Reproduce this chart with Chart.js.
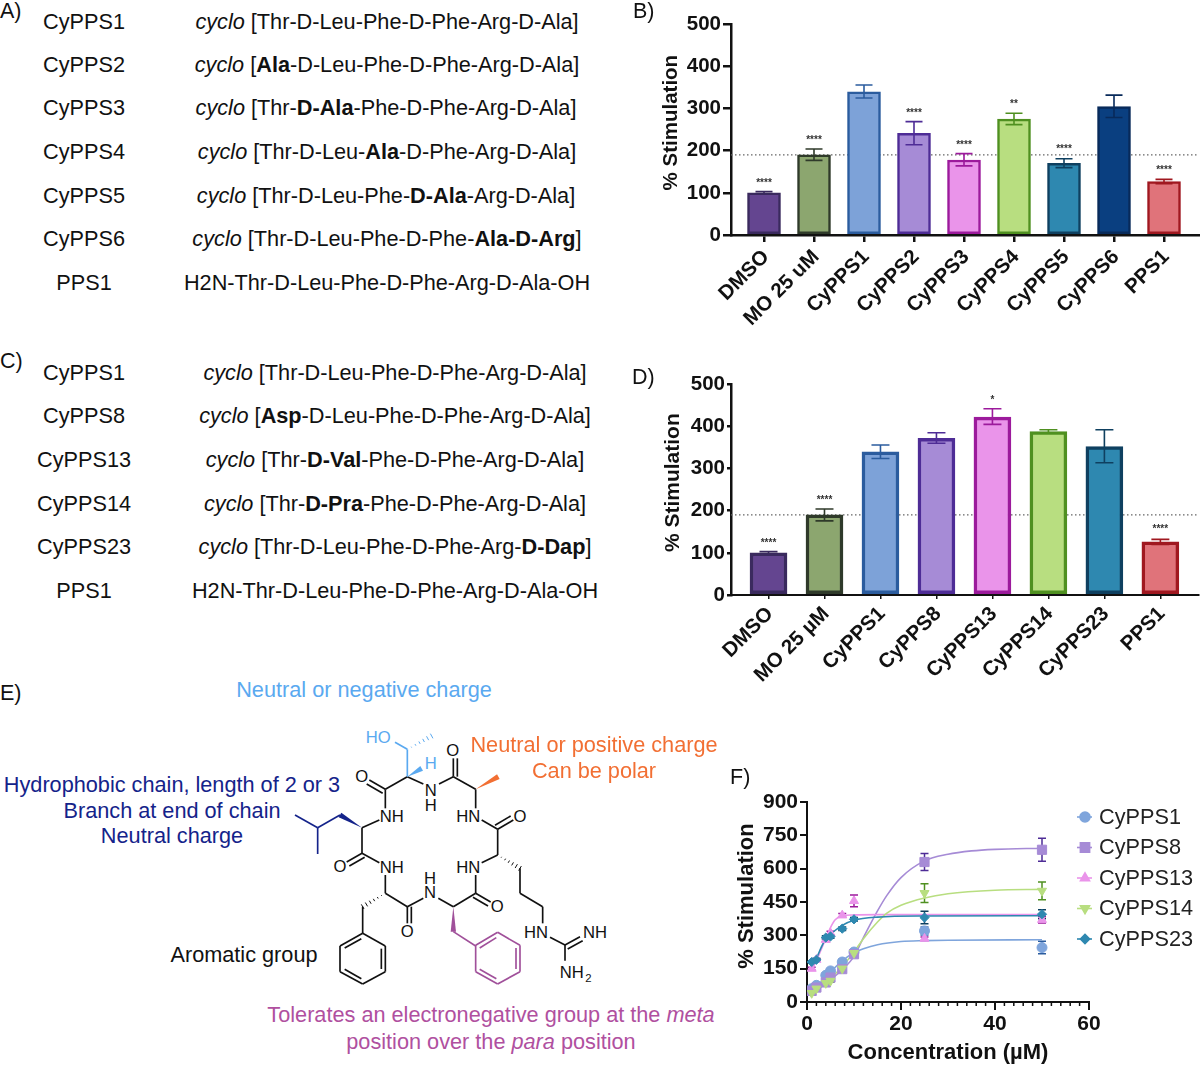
<!DOCTYPE html>
<html>
<head>
<meta charset="utf-8">
<script src="https://cdn.jsdelivr.net/npm/chart.js@4"></script>
<style>
html, body { margin: 0; padding: 0; background: #fff; }
body { width: 1200px; height: 1066px; position: relative; overflow: hidden;
       font-family: "Liberation Sans", Arial, sans-serif; color: #111; }
canvas { position: absolute; }
.t { position: absolute; white-space: nowrap; transform: translate(-50%, -50%); font-size: 21.7px; line-height: 1; }
.l { position: absolute; white-space: nowrap; transform: translateY(-50%); font-size: 21.5px; line-height: 1; }
svg { position: absolute; left: 280px; top: 710px; }
svg line, svg polyline { stroke: #111; stroke-width: 5; fill: none; }
svg text { font-family: "Liberation Sans", Arial, sans-serif; font-size: 50px; fill: #111; text-anchor: middle; dominant-baseline: central; }
</style>
</head>
<body>
<canvas id="chartB" width="560" height="330" style="left:640px;top:10px"></canvas>
<canvas id="chartD" width="560" height="330" style="left:640px;top:370px"></canvas>
<canvas id="chartF" width="470" height="296" style="left:730px;top:770px"></canvas>

<svg id="mol" width="340" height="290" viewBox="0 0 1020 870"></svg>

<script>
// panel B
const labelsB = ['DMSO', 'MO 25 uM', 'CyPPS1', 'CyPPS2', 'CyPPS3', 'CyPPS4', 'CyPPS5', 'CyPPS6', 'PPS1'];
const valuesB = [100, 190, 340, 241, 178, 275, 170, 305, 127];
const upperB = [103, 204, 356, 269, 193, 289, 181, 332, 132];
const lowerB = [97, 177, 325, 214, 164, 262, 160, 279, 122];
const starsB = ['****', '****', '', '****', '****', '**', '****', '', '****'];
const starYB = [128, 230, 0, 294, 218, 315, 208, 0, 159];
const fillB = ['#644590', '#8ca66f', '#7da2d8', '#a68bd6', '#ea94ea', '#b8de80', '#2e88b0', '#0a3f80', '#e0737a'];
const edgeB = ['#3a2a5e', '#2f3a2a', '#2b5c9e', '#4e2c96', '#9c1a9c', '#4f9020', '#0f4060', '#082a5a', '#a01820'];

// panel D
const labelsD = ['DMSO', 'MO 25 µM', 'CyPPS1', 'CyPPS8', 'CyPPS13', 'CyPPS14', 'CyPPS23', 'PPS1'];
const valuesD = [100, 190, 340, 372, 422, 388, 352, 126];
const upperD = [103, 204, 356, 385, 442, 392, 392, 132];
const lowerD = [97, 176, 324, 360, 405, 385, 314, 120];
const starsD = ['****', '****', '', '', '*', '', '', '****'];
const starYD = [128, 230, 0, 0, 467, 0, 0, 161];
const fillD = ['#644590', '#8ca66f', '#7da2d8', '#a68bd6', '#ea94ea', '#b8de80', '#2e88b0', '#e0737a'];
const edgeD = ['#3a2a5e', '#2f3a2a', '#2b5c9e', '#4e2c96', '#9c1a9c', '#4f9020', '#0f4060', '#a01820'];

const refLevel = 190;

// panel F: measured points
const concF = [1, 2, 4, 5, 7.5, 10, 25, 50];
const namesF = ['CyPPS1', 'CyPPS8', 'CyPPS13', 'CyPPS14', 'CyPPS23'];
const cy1Y = [60, 75, 120, 140, 180, 225, 320, 245];
const cy8Y = [50, 65, 88, 110, 148, 215, 630, 685];
const cy13Y = [150, 190, 280, 310, 390, 455, 285, 370];
const cy14Y = [40, 60, 85, 95, 150, 220, 490, 500];
const cy23Y = [180, 190, 290, 295, 330, 372, 380, 395];
const cy1Err = [8, 8, 10, 10, 12, 12, 18, 28];
const cy8Err = [6, 6, 8, 8, 10, 10, 38, 52];
const cy13Err = [6, 6, 8, 8, 8, 26, 8, 14];
const cy14Err = [6, 6, 6, 6, 8, 8, 42, 40];
const cy23Err = [6, 6, 8, 8, 8, 8, 28, 20];

// panel F: fitted curves
const cy1CurveX = [1, 2, 4, 5, 7.5, 10, 12, 15, 20, 25, 30, 50];
const cy1CurveY = [52, 70, 112, 135, 185, 222, 240, 258, 272, 276, 278, 280];
const cy8CurveX = [1, 2, 4, 5, 7.5, 10, 12, 15, 17, 20, 25, 30, 35, 40, 50];
const cy8CurveY = [50, 62, 85, 100, 145, 205, 290, 410, 480, 560, 635, 665, 680, 687, 692];
const cy13CurveX = [1, 2, 3, 4, 5, 6, 7.5, 10, 15, 25, 50];
const cy13CurveY = [145, 185, 235, 285, 335, 370, 388, 392, 393, 393, 393];
const cy14CurveX = [1, 2, 4, 5, 7.5, 10, 12, 15, 17, 20, 25, 30, 40, 50];
const cy14CurveY = [35, 50, 85, 105, 160, 225, 285, 360, 400, 435, 468, 487, 503, 507];
const cy23CurveX = [1, 2, 3, 4, 5, 7.5, 10, 15, 25, 50];
const cy23CurveY = [178, 198, 245, 285, 305, 345, 368, 382, 387, 388];

const fillF = ['#7fa5dc', '#a68bd6', '#ea94ea', '#b8de80', '#2e88b0'];
const edgeF = ['#2b5c9e', '#4e2c96', '#9c1a9c', '#4f9020', '#0f4060'];
const styleF = ['circle', 'rect', 'triangle', 'triangle', 'rectRot'];
const rotF = [0, 0, 0, 180, 0];
const radiusF = [5, 6.5, 5.2, 5.2, 4.6];

const fontFamily = '"Liberation Sans", Arial, sans-serif';

function pair(xs, ys) {
    return xs.map(function(x, i) { return { x: x, y: ys[i] }; });
}

// y axis title, sits a little above the middle of the axis
const sideTitle = {
    id: 'sideTitle',
    afterDraw: function(chart, args, opts) {
        const ctx = chart.ctx, y = chart.scales.y;
        ctx.save();
        ctx.translate(opts.x, (y.top + y.bottom) / 2 + opts.shift);
        ctx.rotate(-Math.PI / 2);
        ctx.fillStyle = '#111';
        ctx.font = 'bold ' + opts.size + 'px ' + fontFamily;
        ctx.textAlign = 'center';
        ctx.textBaseline = 'middle';
        ctx.fillText('% Stimulation', 0, 0);
        ctx.restore();
    }
};

// error bars and significance stars on the bar panels
const barMarks = {
    id: 'barMarks',
    afterDatasetsDraw: function(chart, args, opts) {
        const ctx = chart.ctx, x = chart.scales.x, y = chart.scales.y;
        ctx.save();
        opts.upper.forEach(function(up, i) {
            const px = x.getPixelForValue(i);
            ctx.strokeStyle = opts.edge[i];
            ctx.lineWidth = 1.6;
            ctx.beginPath();
            ctx.moveTo(px, y.getPixelForValue(up));
            ctx.lineTo(px, y.getPixelForValue(opts.lower[i]));
            [up, opts.lower[i]].forEach(function(v) {
                ctx.moveTo(px - opts.cap, y.getPixelForValue(v));
                ctx.lineTo(px + opts.cap, y.getPixelForValue(v));
            });
            ctx.stroke();
            if (opts.stars[i]) {
                ctx.fillStyle = '#333';
                ctx.font = 'bold 10px ' + fontFamily;
                ctx.textAlign = 'center';
                ctx.textBaseline = 'middle';
                ctx.fillText(opts.stars[i], px, y.getPixelForValue(opts.starY[i]) + 2);
            }
        });
        ctx.restore();
    }
};

function barChart(id, labels, values, upper, lower, stars, starY, fill, edge, o) {
    return new Chart(document.getElementById(id), {
        type: 'bar',
        data: {
            datasets: [{
                data: values.map(function(v, i) { return { x: i, y: v }; }),
                backgroundColor: fill,
                borderColor: edge,
                borderWidth: o.border,
                borderSkipped: false,
                barThickness: o.barWidth,
                order: 1
            }, {
                type: 'line',
                data: [{ x: o.xMin, y: refLevel }, { x: o.xMax, y: refLevel }],
                borderColor: '#666',
                borderWidth: 1.2,
                borderDash: [1.5, 2.5],
                pointRadius: 0,
                order: 2
            }]
        },
        options: {
            responsive: false,
            animation: false,
            layout: { padding: { top: 14, right: 1, left: 0, bottom: 0 } },
            plugins: {
                legend: { display: false },
                tooltip: { enabled: false },
                barMarks: { upper: upper, lower: lower, stars: stars, starY: starY, edge: edge, cap: o.cap },
                sideTitle: { x: o.titleX, shift: -7, size: o.titleSize }
            },
            scales: {
                x: {
                    type: 'linear', min: o.xMin, max: o.xMax, offset: false,
                    afterBuildTicks: function(s) { s.ticks = labels.map(function(l, i) { return { value: i }; }); },
                    afterFit: function(s) { s.height = 105; },
                    grid: { offset: false, drawOnChartArea: false, color: '#111', lineWidth: o.xTickWidth, tickLength: o.xTick },
                    border: { color: '#111', width: o.xAxisWidth },
                    ticks: {
                        autoSkip: false, minRotation: 45, maxRotation: 45, color: '#111', padding: 3, labelOffset: o.labelShift,
                        font: { family: fontFamily, weight: 'bold', size: o.xFont },
                        callback: function(v) { return labels[v]; }
                    }
                },
                y: {
                    min: 0, max: 500,
                    afterFit: function(s) { s.width = 91; },
                    grid: { drawOnChartArea: false, color: '#111', lineWidth: 2.5, tickLength: o.yTick },
                    border: { color: '#111', width: 2.5 },
                    ticks: { stepSize: 100, color: '#111', font: { family: fontFamily, weight: 'bold', size: 20.5 }, padding: 2 }
                }
            }
        },
        plugins: [barMarks, sideTitle]
    });
}

barChart('chartB', labelsB, valuesB, upperB, lowerB, starsB, starYB, fillB, edgeB,
    { border: 2.5, barWidth: 33, cap: 8.5, xMin: -0.66, xMax: 8.7, xAxisWidth: 2.5, xTickWidth: 2.5,
      xTick: 7, yTick: 8, xFont: 20.5, titleX: 31, titleSize: 20.5, labelShift: 2 });
barChart('chartD', labelsD, valuesD, upperD, lowerD, starsD, starYD, fillD, edgeD,
    { border: 3.5, barWidth: 37, cap: 9, xMin: -0.67, xMax: 7.69, xAxisWidth: 2, xTickWidth: 1.5,
      xTick: 4, yTick: 4, xFont: 20.5, titleX: 33, titleSize: 21, labelShift: 1.5 });

// panel F
const seriesF = [
    { y: cy1Y, err: cy1Err, cx: cy1CurveX, cy: cy1CurveY },
    { y: cy8Y, err: cy8Err, cx: cy8CurveX, cy: cy8CurveY },
    { y: cy13Y, err: cy13Err, cx: cy13CurveX, cy: cy13CurveY },
    { y: cy14Y, err: cy14Err, cx: cy14CurveX, cy: cy14CurveY },
    { y: cy23Y, err: cy23Err, cx: cy23CurveX, cy: cy23CurveY }
];
const datasetsF = [];
seriesF.forEach(function(s, i) {
    datasetsF.push({
        data: pair(s.cx, s.cy), showLine: true, pointRadius: 0, borderColor: fillF[i], borderWidth: 1.6,
        cubicInterpolationMode: 'monotone', order: 10 - i
    });
});
seriesF.forEach(function(s, i) {
    datasetsF.push({
        data: pair(concF, s.y), showLine: false, pointStyle: styleF[i], pointRotation: rotF[i], pointRadius: radiusF[i],
        backgroundColor: fillF[i], borderColor: fillF[i], order: 5 - i
    });
});

const curveMarks = {
    id: 'curveMarks',
    beforeDatasetsDraw: function(chart) {
        const ctx = chart.ctx, x = chart.scales.x, y = chart.scales.y;
        ctx.save();
        seriesF.forEach(function(s, i) {
            ctx.strokeStyle = edgeF[i];
            ctx.lineWidth = 1.5;
            ctx.beginPath();
            concF.forEach(function(c, j) {
                const px = x.getPixelForValue(c);
                const top = y.getPixelForValue(s.y[j] + s.err[j]);
                const bot = y.getPixelForValue(s.y[j] - s.err[j]);
                ctx.moveTo(px, top); ctx.lineTo(px, bot);
                ctx.moveTo(px - 4, top); ctx.lineTo(px + 4, top);
                ctx.moveTo(px - 4, bot); ctx.lineTo(px + 4, bot);
            });
            ctx.stroke();
        });
        // minor ticks along the concentration axis
        ctx.strokeStyle = '#111';
        ctx.lineWidth = 1.5;
        ctx.beginPath();
        for (let v = 2; v < 60; v += 2) {
            if (v % 20 === 0) continue;
            const px = x.getPixelForValue(v);
            ctx.moveTo(px, y.bottom);
            ctx.lineTo(px, y.bottom + 4);
        }
        ctx.stroke();
        ctx.restore();
    },
    afterDraw: function(chart) {
        // legend
        const ctx = chart.ctx;
        ctx.save();
        namesF.forEach(function(name, i) {
            const ly = 47 + i * 30.5;
            ctx.strokeStyle = fillF[i];
            ctx.lineWidth = 1.6;
            ctx.beginPath();
            ctx.moveTo(347, ly);
            ctx.lineTo(362, ly);
            ctx.stroke();
            ctx.fillStyle = fillF[i];
            Chart.helpers.drawPoint(ctx, { pointStyle: styleF[i], rotation: rotF[i], radius: radiusF[i], borderWidth: 1 }, 355, ly);
            ctx.fillStyle = '#222';
            ctx.font = '21.7px ' + fontFamily;
            ctx.textAlign = 'left';
            ctx.textBaseline = 'middle';
            ctx.fillText(name, 369, ly + 1);
        });
        ctx.restore();
    }
};

new Chart(document.getElementById('chartF'), {
    type: 'scatter',
    data: { datasets: datasetsF },
    options: {
        responsive: false,
        animation: false,
        layout: { padding: { top: 32, right: 111, left: 0, bottom: 0 } },
        plugins: {
            legend: { display: false },
            tooltip: { enabled: false },
            sideTitle: { x: 17, shift: -6, size: 22 }
        },
        scales: {
            x: {
                type: 'linear', min: 0, max: 60,
                afterFit: function(s) { s.height = 64; },
                grid: { drawOnChartArea: false, color: '#111', lineWidth: 2, tickLength: 8 },
                border: { color: '#111', width: 2 },
                ticks: { stepSize: 20, color: '#111', font: { family: fontFamily, weight: 'bold', size: 21 }, padding: 2, maxRotation: 0 },
                title: { display: true, text: 'Concentration (µM)', color: '#111', font: { family: fontFamily, weight: 'bold', size: 22 }, padding: { top: 4, bottom: 0 } }
            },
            y: {
                min: 0, max: 900,
                afterFit: function(s) { s.width = 77; },
                grid: { drawOnChartArea: false, color: '#111', lineWidth: 2, tickLength: 7 },
                border: { color: '#111', width: 2 },
                ticks: { stepSize: 150, color: '#111', font: { family: fontFamily, weight: 'bold', size: 21 }, padding: 2 }
            }
        }
    },
    plugins: [curveMarks, sideTitle]
});

// peptide tables
const namesA = ['CyPPS1', 'CyPPS2', 'CyPPS3', 'CyPPS4', 'CyPPS5', 'CyPPS6', 'PPS1'];
const rowYA = [22, 65, 108, 152, 196, 239, 283];
const seqA = [
    '<i>cyclo</i> [Thr-D-Leu-Phe-D-Phe-Arg-D-Ala]',
    '<i>cyclo</i> [<b>Ala</b>-D-Leu-Phe-D-Phe-Arg-D-Ala]',
    '<i>cyclo</i> [Thr-<b>D-Ala</b>-Phe-D-Phe-Arg-D-Ala]',
    '<i>cyclo</i> [Thr-D-Leu-<b>Ala</b>-D-Phe-Arg-D-Ala]',
    '<i>cyclo</i> [Thr-D-Leu-Phe-<b>D-Ala</b>-Arg-D-Ala]',
    '<i>cyclo</i> [Thr-D-Leu-Phe-D-Phe-<b>Ala-D-Arg</b>]',
    'H2N-Thr-D-Leu-Phe-D-Phe-Arg-D-Ala-OH'
];
const namesC = ['CyPPS1', 'CyPPS8', 'CyPPS13', 'CyPPS14', 'CyPPS23', 'PPS1'];
const rowYC = [373, 416, 460, 504, 547, 591];
const seqC = [
    '<i>cyclo</i> [Thr-D-Leu-Phe-D-Phe-Arg-D-Ala]',
    '<i>cyclo</i> [<b>Asp</b>-D-Leu-Phe-D-Phe-Arg-D-Ala]',
    '<i>cyclo</i> [Thr-<b>D-Val</b>-Phe-D-Phe-Arg-D-Ala]',
    '<i>cyclo</i> [Thr-<b>D-Pra</b>-Phe-D-Phe-Arg-D-Ala]',
    '<i>cyclo</i> [Thr-D-Leu-Phe-D-Phe-Arg-<b>D-Dap</b>]',
    'H2N-Thr-D-Leu-Phe-D-Phe-Arg-D-Ala-OH'
];
const seqCenterA = [387, 387, 386, 387, 386, 387, 387];
const seqCenterC = [395, 395, 395, 395, 395, 395];

function addText(cls, x, y, html, color, size) {
    const d = document.createElement('div');
    d.className = cls;
    d.style.left = x + 'px';
    d.style.top = y + 'px';
    if (color) d.style.color = color;
    if (size) d.style.fontSize = size + 'px';
    d.innerHTML = html;
    document.body.appendChild(d);
}
namesA.forEach(function(n, i) { addText('t', 84, rowYA[i], n); addText('t', seqCenterA[i], rowYA[i], seqA[i]); });
namesC.forEach(function(n, i) { addText('t', 84, rowYC[i], n); addText('t', seqCenterC[i], rowYC[i], seqC[i]); });

addText('l', 0, 12, 'A)');
addText('l', 633, 12, 'B)');
addText('l', 0, 362, 'C)');
addText('l', 632, 378, 'D)');
addText('l', 0, 694, 'E)');
addText('l', 730, 778, 'F)');

addText('t', 364, 690, 'Neutral or negative charge', '#5aa9f0');
addText('t', 594, 745, 'Neutral or positive charge', '#f26f33');
addText('t', 594, 771, 'Can be polar', '#f26f33');
addText('t', 172, 785, 'Hydrophobic chain, length of 2 or 3', '#14238a');
addText('t', 172, 811, 'Branch at end of chain', '#14238a');
addText('t', 172, 836, 'Neutral charge', '#14238a');
addText('t', 244, 955, 'Aromatic group', '#111');
addText('t', 491, 1015, 'Tolerates an electronegative group at the <i>meta</i>', '#b0509f');
addText('t', 491, 1042, 'position over the <i>para</i> position', '#b0509f');

// structure in panel E, in 3x units of its own box
const molBlack = [
    [382,200,316,238],[316,238,316,295],[298,330,246,353],[246,353,246,430],[246,430,298,458],
    [316,495,316,550],[316,550,382,590],[248,590,248,670],[382,590,430,565],[475,565,520,590],
    [520,590,587,550],[587,550,587,495],[605,458,653,435],[653,435,653,358],[653,358,605,330],
    [587,295,587,238],[587,238,520,200],[520,200,477,222],[430,222,382,200],
    [720,475,720,550],[720,550,788,590],[788,590,788,640],[810,682,855,705],[855,705,855,752],
    [316,238,268,210],[308,250,260,222],[246,430,200,456],[254,442,208,468],
    [382,590,382,640],[394,590,394,640],[653,358,700,330],[645,346,692,318],
    [587,550,632,576],[579,562,624,588],[520,200,520,145],[532,200,532,145],
    [855,705,900,680],[863,717,908,692],
    [248,670,316,708],[316,708,316,785],[316,785,248,822],[248,822,180,785],[180,785,180,708],[180,708,248,670],
    [304,716,304,777],[244,806,194,778],[194,714,244,686]
];
const molNavy = [[180,315,113,353],[113,353,45,315],[113,353,113,432]];
const molBlue = [[345,97,382,118],[382,118,382,200]];
const molPurple = [
    [520,665,587,708],[653,667,720,706],[720,706,720,785],[720,785,653,822],[653,822,587,785],[587,785,587,706],[587,706,653,667],
    [708,714,708,777],[649,806,599,778],[599,714,649,683]
];
const molWedges = [[382,200,425,175,'#5aa9f0'],[246,353,180,315,'#14238a'],[520,590,520,665,'#a0509a'],[587,238,655,200,'#f26f33']];
const molHash = [[382,118,455,78,'#5aa9f0'],[316,550,248,590,'#111'],[653,435,720,475,'#111']];
const molLabels = [
    ['HO',295,82,'#5aa9f0'],['H',452,160,'#5aa9f0'],['O',245,200,'#111'],['N',452,240,'#111'],['H',452,285,'#111'],
    ['NH',335,318,'#111'],['O',180,470,'#111'],['NH',335,472,'#111'],['O',382,665,'#111'],['N',450,548,'#111'],['H',450,505,'#111'],
    ['O',652,590,'#111'],['HN',565,472,'#111'],['O',720,318,'#111'],['HN',565,318,'#111'],['O',518,122,'#111'],
    ['HN',768,668,'#111'],['NH',945,668,'#111'],['NH',875,788,'#111'],['2',925,803,'#111']
];

const mol = document.getElementById('mol');
const NS = 'http://www.w3.org/2000/svg';
function molEl(tag, attrs, parent) {
    const el = document.createElementNS(NS, tag);
    Object.keys(attrs).forEach(function(k) { el.setAttribute(k, attrs[k]); });
    (parent || mol).appendChild(el);
    return el;
}
function drawBonds(list, color) {
    list.forEach(function(b) {
        molEl('line', { x1: b[0], y1: b[1], x2: b[2], y2: b[3], style: 'stroke:' + color });
    });
}
drawBonds(molBlack, '#111');
drawBonds(molNavy, '#14238a');
drawBonds(molBlue, '#5aa9f0');
drawBonds(molPurple, '#a0509a');
molWedges.forEach(function(w) {
    const dx = w[2] - w[0], dy = w[3] - w[1], len = Math.hypot(dx, dy);
    const nx = -dy / len * 8, ny = dx / len * 8;
    molEl('polygon', { points: w[0] + ',' + w[1] + ' ' + (w[2] + nx) + ',' + (w[3] + ny) + ' ' + (w[2] - nx) + ',' + (w[3] - ny), fill: w[4] });
});
molHash.forEach(function(h) {
    const dx = h[2] - h[0], dy = h[3] - h[1], len = Math.hypot(dx, dy);
    for (let k = 1; k <= 6; k++) {
        const f = k / 6, nx = -dy / len * 8 * f, ny = dx / len * 8 * f;
        const cx = h[0] + dx * f, cy = h[1] + dy * f;
        molEl('line', { x1: cx + nx, y1: cy + ny, x2: cx - nx, y2: cy - ny, style: 'stroke-width:3;stroke:' + h[4] });
    }
});
molLabels.forEach(function(l) {
    const t = molEl('text', { x: l[1], y: l[2], style: 'fill:' + l[3] + (l[0] === '2' ? ';font-size:34px' : '') });
    t.textContent = l[0];
});
</script>
</body>
</html>
